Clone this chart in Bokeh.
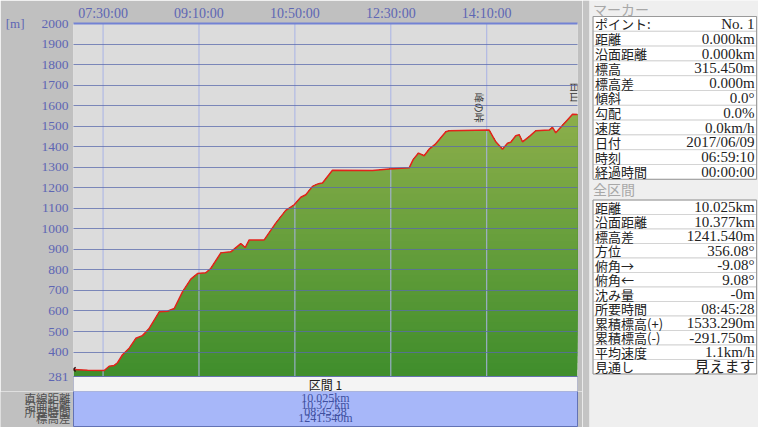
import numpy as np
from bokeh.plotting import figure
from bokeh.layouts import row, column
from bokeh.models import Range1d, FixedTicker, Label
from bokeh.core.properties import value
from bokeh.embed import file_html
from bokeh.resources import INLINE

# ---------------- data ----------------
start_clock = "06:59:10"
total_minutes = 525.47          # 08:45:28
elapsed_min = [0.0, 14.6, 32.0, 37.2, 42.4, 45.9, 51.1, 58.1, 65.0, 71.9,
               78.9, 89.4, 98.0, 105.0, 113.6, 122.3, 129.3, 137.9, 143.1, 153.6,
               164.0, 174.4, 179.0, 183.2, 198.8, 210.9, 221.3, 230.1, 237.0, 242.2,
               249.2, 255.4, 259.6, 270.0, 311.7, 329.1, 350.0, 354.1, 359.7, 365.6,
               370.8, 377.7, 388.2, 391.7, 433.4, 440.3, 447.3, 452.5, 455.9, 461.1,
               464.7, 468.1, 475.1, 482.0, 496.0, 499.4, 502.8, 513.3, 520.3, 525.47]
elevation_m = [315.5, 312, 310, 331, 335, 348, 387, 419, 467, 480,
               515, 596, 599, 612, 693, 755, 782, 786, 807, 883,
               888, 928, 909, 946, 946, 1028, 1090, 1117, 1154, 1166,
               1207, 1220, 1223, 1285, 1284, 1292, 1297, 1337, 1369, 1356,
               1388, 1414, 1473, 1478, 1481, 1424, 1388, 1417, 1422, 1453,
               1458, 1424, 1449, 1478, 1481, 1494, 1468, 1522, 1558, 1557]

tick_minutes = [450, 550, 650, 750, 850]
tick_labels = ["07:30:00", "09:10:00", "10:50:00", "12:30:00", "14:10:00"]
y_min, y_max = 281, 2000
y_ticks = [281, 400, 500, 600, 700, 800, 900, 1000, 1100, 1200, 1300,
           1400, 1500, 1600, 1700, 1800, 1900, 2000]
y_unit = "[m]"

peak_names = ["峰の峠", "白山"]
peak_elapsed = [423.3, 523.4]
peak_label_elev = [1590, 1665]

section_title = "区間 1"
section_labels = ["直線距離", "沿面距離", "所要時間", "標高差"]
section_values = ["10.025km", "10.377km", "08:45:28", "1241.540m"]

marker_title = "マーカー"
marker_labels = ["ポイント:", "距離", "沿面距離", "標高", "標高差", "傾斜", "勾配",
                 "速度", "日付", "時刻", "経過時間"]
marker_values = ["No. 1", "0.000km", "0.000km", "315.450m", "0.000m", "0.0°", "0.0%",
                 "0.0km/h", "2017/06/09", "06:59:10", "00:00:00"]
total_title = "全区間"
total_labels = ["距離", "沿面距離", "標高差", "方位", "俯角→", "俯角←", "沈み量",
                "所要時間", "累積標高(+)", "累積標高(-)", "平均速度", "見通し"]
total_values = ["10.025km", "10.377km", "1241.540m", "356.08°", "-9.08°", "9.08°", "-0m",
                "08:45:28", "1533.290m", "-291.750m", "1.1km/h", "見えます"]

# ---------------- styling ----------------
BG = "#c0c0c0"
PLOT_BG = "#dcdcdc"
AX_TXT = "#5e66b4"
HGRID = "#5a69ac"
VGRID = "#a9b3e6"
RED = "#e3231b"
GREEN_TOP = (0x90, 0xb0, 0x4c)
GREEN_BOT = (0x40, 0x8e, 0x2c)
SERIF = "Liberation Serif"
CJK = "Noto Sans CJK JP"

hh, mm, ss = [int(v) for v in start_clock.split(":")]
t0 = hh * 60 + mm + ss / 60.0
t1 = t0 + total_minutes
xs = [t0 + m for m in elapsed_min]

W1, H = 582, 427
H1 = 391                      # chart part: screen rows 8..399
H2 = H - H1                   # band part:  screen rows 399..435
LEFT_B, RIGHT_B, TOP_B = 73, 5, 23
frame_h = H1 - TOP_B
REF_TOP, REF_BASE = 31, 384           # screen rows of 2000 m and 281 m
m_per_px = (y_max - y_min) / (REF_BASE - REF_TOP)
y_lo = y_max - frame_h * m_per_px


def ypx(ref_y):
    return y_max - (ref_y - REF_TOP) * m_per_px


def no_align(fig):
    if hasattr(fig, "frame_align"):
        fig.frame_align = False


p = figure(width=W1, height=H1, output_backend="svg", toolbar_location=None, title=None,
           x_range=Range1d(t0, t1), y_range=Range1d(y_lo, y_max),
           x_axis_location="above", min_border_left=LEFT_B, min_border_right=RIGHT_B,
           min_border_top=TOP_B, min_border_bottom=0)
no_align(p)
p.background_fill_color = PLOT_BG
p.border_fill_color = BG
p.outline_line_color = None

xa = p.xaxis[0]
xa.ticker = FixedTicker(ticks=tick_minutes)
xa.major_label_overrides = {t: s for t, s in zip(tick_minutes, tick_labels)}
xa.major_label_text_font = SERIF
xa.major_label_text_font_size = "14px"
xa.major_label_text_color = AX_TXT
xa.major_label_standoff = 3
xa.axis_line_color = "#7282d4"
xa.axis_line_width = 2
xa.major_tick_line_color = None
xa.minor_tick_line_color = None
xa.major_tick_out = 0
xa.major_tick_in = 0
xa.minor_tick_out = 0

ya = p.yaxis[0]
ya.ticker = FixedTicker(ticks=y_ticks)
ya.major_label_text_font = SERIF
ya.major_label_text_font_size = "13.5px"
ya.major_label_text_color = AX_TXT
ya.major_label_standoff = 5
ya.axis_line_color = None
ya.major_tick_line_color = None
ya.minor_tick_line_color = None
ya.major_tick_out = 0
ya.major_tick_in = 0
ya.minor_tick_out = 0
ya.axis_label = y_unit
ya.axis_label_orientation = "horizontal"
if hasattr(ya, "axis_label_align"):
    ya.axis_label_align = "end"
ya.axis_label_standoff = 14
ya.axis_label_text_font = SERIF
ya.axis_label_text_font_size = "13px"
ya.axis_label_text_font_style = "normal"
ya.axis_label_text_color = AX_TXT

p.xgrid.visible = False
p.ygrid.ticker = FixedTicker(ticks=y_ticks)
p.ygrid.grid_line_color = HGRID
p.ygrid.grid_line_alpha = 0.75
p.ygrid.level = "overlay"

# gradient green fill under profile (stacked bands)
xx = np.linspace(t0, t1, 1600)
yy = np.interp(xx, xs, elevation_m)
levels = np.linspace(y_min, 1600, 40, endpoint=False)
for k, lv in enumerate(levels):
    f = (lv - y_min) / (1600 - y_min)
    c = tuple(int(round(b0 + (t - b0) * f)) for b0, t in zip(GREEN_BOT, GREEN_TOP))
    col = "#%02x%02x%02x" % c
    p.varea(x=xx, y1=np.full_like(xx, lv), y2=np.maximum(yy, lv),
            fill_color=col, fill_alpha=1.0)

# vertical time grid
p.segment(x0=tick_minutes, y0=[y_min] * len(tick_minutes), x1=tick_minutes,
          y1=[y_max] * len(tick_minutes), line_color=VGRID, line_width=1)

# profile line
p.line(xs, elevation_m, line_color=RED, line_width=1.5)
p.scatter([xs[0]], [elevation_m[0]], marker="x", size=6, line_color="#301010", line_width=1.5)

# white section-title band
p.quad(left=[t0], right=[t1], bottom=[y_lo], top=[y_min],
       fill_color="#f4f4f4", line_color="#8890b8", line_width=1)
mid = (t0 + t1) / 2
p.add_layout(Label(x=mid, y=ypx(391.5), text=section_title, text_align="center",
                   text_baseline="middle", text_font=CJK, text_font_size="12px",
                   text_color="#202020"))

for name, em, ev in zip(peak_names, peak_elapsed, peak_label_elev):
    p.add_layout(Label(x=t0 + em, y=ev, text=name, angle=-np.pi / 2, text_align="center",
                       text_baseline="middle", text_font=CJK, text_font_size="10px",
                       text_color="#303030"))

# ---------------- section summary strip ----------------
b = figure(width=W1, height=H2, output_backend="svg", toolbar_location=None, title=None,
           x_range=Range1d(8, 8 + W1), y_range=Range1d(8 + H, 8 + H1),
           x_axis_type=None, y_axis_type=None, min_border=0)
no_align(b)
b.background_fill_color = BG
b.border_fill_color = BG
b.outline_line_color = None
b.grid.visible = False
b.quad(left=[81], right=[585], top=[398.5], bottom=[434], fill_color="#a7b7f9",
       line_color="#6272b4", line_width=1)
row_y = [405.8, 412.4, 419.0, 425.6]
for lab, val, yv in zip(section_labels, section_values, row_y):
    b.add_layout(Label(x=333, y=yv, text=val, text_align="center", text_baseline="middle",
                       text_font=SERIF, text_font_size="12px", text_color="#4050a0"))
    b.add_layout(Label(x=78, y=yv, text=lab, text_align="right", text_baseline="middle",
                       text_font=CJK, text_font_size="11.5px", text_color="#505050"))

# ---------------- info panel ----------------
W2 = 176
q = figure(width=W2, height=H, output_backend="svg", toolbar_location=None, title=None,
           x_range=Range1d(0, W2), y_range=Range1d(H, 0),
           x_axis_type=None, y_axis_type=None, min_border=0)
no_align(q)
q.background_fill_color = "#efefef"
q.border_fill_color = "#efefef"
q.outline_line_color = None
q.grid.visible = False

sc = W2 / 184.0


def sx(rx):
    return (rx - 590) * sc


q.quad(left=[0], right=[sx(597)], top=[0], bottom=[H], fill_color="#c4c4c4", line_color=None)
tl, tr = sx(601), sx(772)


def table(title, title_y, labels, values, top, rh):
    q.text(x=[tl], y=[title_y], text=[title], text_baseline="middle",
           text_font=value(CJK), text_font_size="14px", text_color="#a8a8a8")
    n = len(labels)
    tops = [top + i * rh for i in range(n)]
    q.quad(left=[tl] * n, right=[tr] * n, top=tops, bottom=[t + rh for t in tops],
           fill_color="white", line_color="#d4d4d4", line_width=1)
    q.quad(left=[tl], right=[tr], top=[top], bottom=[top + n * rh],
           fill_color=None, line_color="#9a9a9a", line_width=1)
    cy = [t + rh / 2 for t in tops]
    q.text(x=[tl + 2] * n, y=cy, text=labels, text_baseline="middle",
           text_font=value(CJK), text_font_size="13px", text_color="#222222")
    q.text(x=[tr - 2] * n, y=cy, text=values, text_align="right", text_baseline="middle",
           text_font=value(SERIF + ", " + CJK), text_font_size="15px", text_color="#222222")


table(marker_title, 8, marker_labels, marker_values, 16, 14.8)
table(total_title, 188, total_labels, total_values, 199.5, 14.5)

layout = row(column(p, b, spacing=0), q, spacing=0)
open("out.html", "w").write(file_html(layout, INLINE))
